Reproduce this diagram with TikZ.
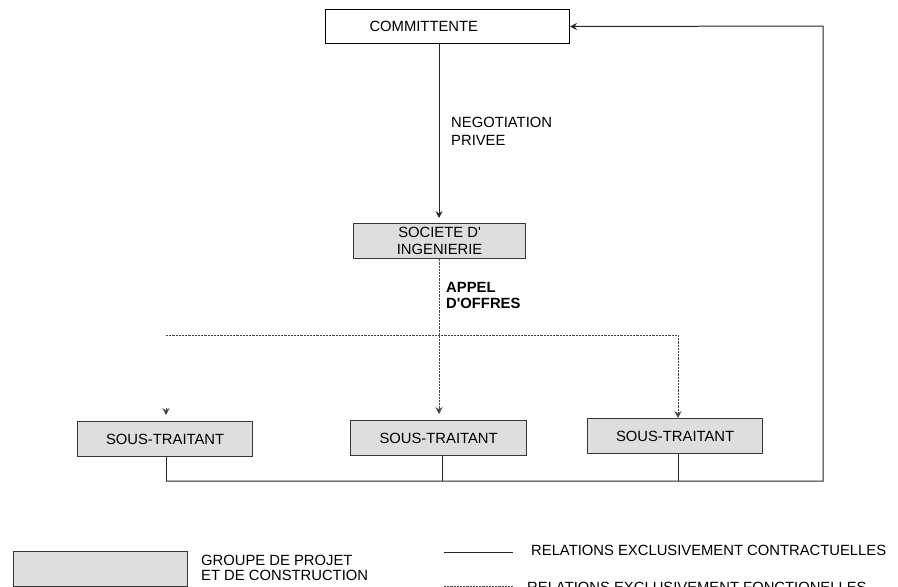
\documentclass[tikz,border=0pt]{standalone}
\usepackage{fontspec}
\setmainfont{Liberation Sans}[Ligatures=TeXOff]
\usetikzlibrary{arrows.meta}
\definecolor{boxfill}{RGB}{222,222,222}
\definecolor{boxline}{RGB}{55,55,55}
\definecolor{funcline}{RGB}{70,70,70}
\begin{document}
\begin{tikzpicture}[x=1pt,y=-1pt,
  every node/.style={font=\fontsize{14.8}{17}\selectfont, inner sep=0pt},
  plainbox/.style={draw=black, fill=white, line width=1pt, minimum height=34pt},
  groupbox/.style={draw=boxline, fill=boxfill, line width=1.2pt,
    minimum width=175pt, minimum height=35pt, align=center},
  contract/.style={draw=black!85, line width=1pt},
  func/.style={draw=funcline, line width=0.9pt, dash pattern=on 2.2pt off 1pt},
  tip/.style={-{Stealth[length=7pt,width=7pt,inset=2.5pt]}},
  textblock/.style={anchor=north west, align=left}
]
\useasboundingbox (0,0) rectangle (898,587);
\clip (0,0) rectangle (898,587);

% main parties
\node[plainbox, text width=156pt, inner xsep=44pt, align=left, anchor=north west]
  (comm) at (325,9) {COMMITTENTE};
\node[groupbox, minimum width=172pt, anchor=north west]
  (soc) at (353,223) {SOCIETE D'\\INGENIERIE};

% sub-contractors
\node[groupbox, anchor=north west] (s1) at (77,421) {SOUS-TRAITANT};
\node[groupbox, minimum width=176pt, anchor=north west] (s2) at (350,420) {SOUS-TRAITANT};
\node[groupbox, anchor=north west] (s3) at (587,418) {SOUS-TRAITANT};

% connector labels
\node[textblock, font=\fontsize{14.8}{18}\selectfont] (neg) at (451,116.5) {NEGOTIATION\\PRIVEE};
\node[textblock, font=\fontsize{14.8}{16}\selectfont\bfseries] (appel) at (446,282.5) {APPEL\\D'OFFRES};

% routing points
\coordinate (mainx) at (439,0);
\coordinate (fl) at (166,335);
\coordinate (fr) at (678,335);
\coordinate (lefttip) at (166,415);
\coordinate (b1) at (166,481);
\coordinate (b2) at (442,481);
\coordinate (b3) at (678,481);
\coordinate (br) at (823,481);
\coordinate (tr) at (823,26);

% contractual relations
\draw[contract, tip, shorten >=5pt] (comm.south -| mainx) -- (soc.north -| mainx);
\draw[contract] (s1.south -| b1) -- (b1);
\draw[contract] (s2.south -| b2) -- (b2);
\draw[contract] (s3.south -| b3) -- (b3);
\draw[contract, tip] (b1) -- (br) -- (tr) -- (comm.east);

% functional relations (call for tenders)
\draw[func, tip, shorten >=6pt] (soc.south -| mainx) -- (s2.north -| mainx);
\draw[func, tip] (fl) -- (fr) -- (s3.north -| fr);
\draw[func, tip] ([yshift=7pt]lefttip) -- (lefttip);

% legend
\node[groupbox, minimum width=174pt, anchor=north west] (legbox) at (13,551) {};
\node[textblock, font=\fontsize{14.8}{15}\selectfont] (legtext) at (201,555)
  {GROUPE DE PROJET\\ET DE CONSTRUCTION};
\coordinate (lc1) at (444,552);
\coordinate (lc2) at (513,552);
\coordinate (lf1) at (444,586);
\coordinate (lf2) at (513,586);
\draw[contract] (lc1) -- (lc2);
\draw[func] (lf1) -- (lf2);
\node[textblock] (legc) at (531,545) {RELATIONS EXCLUSIVEMENT CONTRACTUELLES};
\node[textblock] (legf) at (527,582) {RELATIONS EXCLUSIVEMENT FONCTIONELLES};
\end{tikzpicture}
\end{document}
